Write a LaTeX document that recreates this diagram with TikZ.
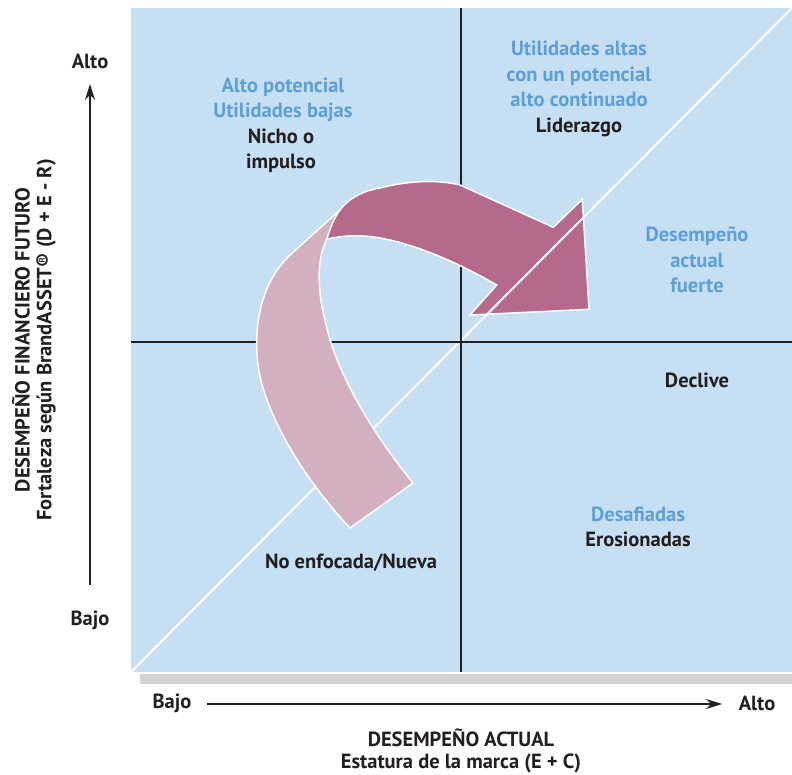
\documentclass[tikz,border=0pt]{standalone}
\usepackage{fontspec}
\setmainfont{PT Sans}
\usetikzlibrary{arrows.meta}
\definecolor{bgblue}{HTML}{C6DFF2}
\definecolor{txtblue}{HTML}{5E9FD8}
\definecolor{darkarr}{HTML}{B56A8C}
\definecolor{lightarr}{HTML}{D3B0C0}
\definecolor{shadowgray}{HTML}{D2D2D2}
\definecolor{txtblack}{HTML}{231F20}
\tikzset{
  lbl/.style={font=\bfseries\fontsize{20.5}{25.5}\selectfont, text=txtblack, align=center, inner sep=0pt},
  blbl/.style={lbl, text=txtblue},
  grid/.style={line width=1.8pt, draw=txtblack},
  arr/.style={-{Stealth[length=16pt,width=10pt]}, line width=1.5pt, draw=txtblack}
}
\begin{document}
\begin{tikzpicture}[x=1pt,y=-1pt]
\useasboundingbox (0,0) rectangle (792,775);
% shadow and background
\fill[shadowgray] (140,674) rectangle (792,684);
\fill[bgblue] (131,8) rectangle (792,672);
% diagonal
\draw[white, line width=2pt] (131,672) -- (792,8);
% grid lines
\draw[grid] (461,8) -- (461,672);
\draw[grid] (131,342) -- (792,342);
% light arrow part (tail)
\filldraw[fill=lightarr, draw=white, line width=1.5pt]
  (350,528) -- (413,483)
  .. controls (370,430) and (335,370) .. (325,320)
  .. controls (316,285) and (318,255) .. (327,239)
  -- (340,210)
  -- (290,255)
  .. controls (262,282) and (255,320) .. (257,355)
  .. controls (260,410) and (305,480) .. cycle;
% dark arrow part (head)
\filldraw[fill=darkarr, draw=white, line width=1.5pt]
  (326.7,239.3)
  .. controls (333,220) and (340,195) .. (380,188)
  .. controls (410,180) and (440,180) .. (460,185)
  -- (553.3,227.3)
  -- (582.3,199.3)
  -- (589,309.3)
  -- (470,315)
  -- (496.7,285)
  .. controls (450,258) and (400,238) .. (363,236)
  .. controls (350,235) and (335,237) .. cycle;
% diagonal over arrow in head region
\begin{scope}
  \clip (553.3,227.3) -- (582.3,199.3) -- (589,309.3) -- (470,315) -- (496.7,285) -- cycle;
  \draw[white, line width=2pt] (131,672) -- (792,8);
\end{scope}
% axes
\coordinate (ybot) at (90,585);
\coordinate (ytop) at (90,84);
\coordinate (xl) at (207,704);
\coordinate (xr) at (722,704);
\draw[arr] (ybot) -- (ytop);
\draw[arr] (xl) -- (xr);
% axis labels
\node[lbl] (yalto) at (90,61) {Alto};
\node[lbl] (ybajo) at (90,620) {Bajo};
\node[lbl] (xbajo) at (172,703) {Bajo};
\node[lbl] (xalto) at (757,703) {Alto};
\node[lbl] (xt1) at (461,738) {DESEMPEÑO ACTUAL};
\node[lbl] (xt2) at (461,763) {Estatura de la marca (E + C)};
\node[lbl, rotate=90] (yt1) at (21,340) {DESEMPEÑO FINANCIERO FUTURO};
\node[lbl, rotate=90] (yt2) at (46,340) {Fortaleza según BrandASSET® (D + E - R)};
% quadrant labels
\node[blbl] (q1a) at (283,100) {Alto potencial\\Utilidades bajas};
\node[lbl] (q1b) at (281,151) {Nicho o\\impulso};
\node[blbl] (q2a) at (579,74) {Utilidades altas\\con un potencial\\alto continuado};
\node[lbl] (q2b) at (579,127) {Liderazgo};
\node[blbl] (q3) at (697,260) {Desempeño\\actual\\fuerte};
\node[lbl] (q4) at (697,380) {Declive};
\node[blbl] (q5a) at (638,514) {Desafiadas};
\node[lbl] (q5b) at (638,539) {Erosionadas};
\node[lbl] (q6) at (351,563) {No enfocada/Nueva};
\end{tikzpicture}
\end{document}
